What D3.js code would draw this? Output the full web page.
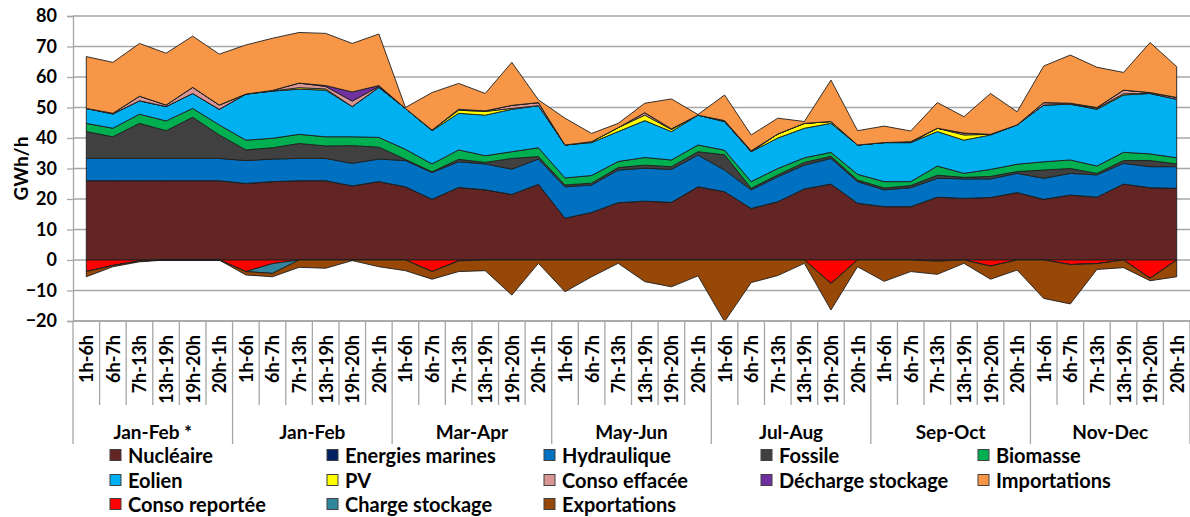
<!DOCTYPE html>
<html lang="fr">
<head>
    <meta charset="UTF-8">
    <title>Production par tranche horaire</title>
    <script src="https://d3js.org/d3.v7.min.js"></script>
    <style>
        body { margin: 0; background: #fff; }
        svg text { font-family: Lato, "Open Sans", sans-serif; font-weight: bold; fill: #000; }
    </style>
</head>
<body>
<svg id="chart" width="1190" height="517"></svg>
<script>
    // categories
    var periods = ["Jan-Feb *", "Jan-Feb", "Mar-Apr", "May-Jun", "Jul-Aug", "Sep-Oct", "Nov-Dec"];
    var slots = ["1h-6h", "6h-7h", "7h-13h", "13h-19h", "19h-20h", "20h-1h"];
    var yTicks = [-20, -10, 0, 10, 20, 30, 40, 50, 60, 70, 80];

    // GWh/h, one value per period x slot (42 points)
    var nucleaire = [26.0,26.0,26.0,26.0,26.0,26.0, 25.1,25.7,26.0,26.0,24.3,25.7, 24.0,19.9,23.8,23.0,21.5,24.8,
        13.7,15.6,18.8,19.3,18.9,24.0, 22.4,16.9,19.1,23.3,24.9,18.6, 17.5,17.5,20.6,20.2,20.5,22.1, 19.9,21.3,20.6,24.9,23.7,23.5];
    var energiesMarines = [0,0,0,0,0,0, 0,0,0,0,0,0, 0,0,0,0,0,0, 0,0,0,0,0,0, 0,0,0,0,0,0, 0,0,0,0,0,0, 0,0,0,0,0,0];
    var hydraulique = [7.3,7.3,7.3,7.3,7.3,7.3, 7.5,7.4,7.3,7.3,7.4,7.4, 8.6,8.8,8.4,8.5,8.3,8.3,
        10.3,9.0,10.7,10.8,10.8,10.4, 7.1,6.1,8.2,7.8,8.4,7.1, 5.5,6.2,6.2,6.4,6.1,6.3, 6.9,7.1,7.3,6.8,6.9,7.1];
    var fossile = [8.8,7.1,11.5,9.1,13.5,7.7, 3.5,3.7,4.9,4.1,5.8,3.9, 0.4,0.2,0.8,0.5,3.5,0.8,
        0.6,0.6,0.8,1.0,0.9,1.1, 5.0,0.5,0.6,0.9,0.7,0.5, 0.6,0.7,1.0,0.5,0.8,0.6, 2.7,1.6,0.5,0.9,2.0,0.9];
    var biomasse = [2.7,2.8,3.0,3.2,2.9,3.3, 3.2,3.1,3.0,3.0,2.9,3.2, 3.3,2.6,3.1,2.2,2.2,2.9,
        2.3,2.5,2.0,2.5,2.2,2.2, 1.5,2.2,2.1,1.5,1.3,1.9, 2.1,1.3,3.0,1.3,2.3,2.4, 2.7,2.8,2.4,2.7,2.2,2.0];
    var eolien = [4.9,4.7,4.4,4.7,4.9,5.1, 15.1,15.5,14.8,15.3,9.9,16.4, 13.4,10.9,12.0,13.3,13.9,13.8,
        10.8,10.8,9.8,12.1,9.3,9.8, 9.4,9.8,10.0,9.7,9.5,9.6, 12.8,12.8,11.3,10.9,11.3,12.9, 18.6,18.3,18.6,18.8,19.8,19.2];
    var pv = [0,0,0,0,0,0, 0,0,0.5,0.4,0,0, 0,0.2,1.0,1.2,0.3,0,
        0,0.3,1.3,1.8,0.7,0, 0,0,1.3,1.6,0.6,0, 0,0,1.1,1.7,0.2,0, 0,0,0.3,0.4,0,0];
    var consoEffacee = [0,0.2,1.5,0.5,2.0,1.4, 0,0.2,1.5,0.8,1.8,0.3, 0,0,0.3,0.2,1.0,1.0,
        0,0,0,0.8,0.2,0, 0.3,0.3,0,0,0,0, 0,0.3,0,0.6,0,0, 0.8,0.3,0.3,1.2,0.3,0.6];
    var dechargeStockage = [0,0,0,0,0,0, 0,0,0,0.3,3.0,0.3, 0,0,0,0,0,0,
        0,0,0,0,0,0, 0,0,0,0,0,0, 0,0,0,0,0,0, 0,0,0,0,0,0];
    var importations = [17.0,16.7,17.3,17.0,16.8,16.7, 16.1,17.1,16.6,17.1,15.9,16.9, 0.3,12.3,8.5,5.7,14.1,0.9,
        8.8,2.7,1.4,3.1,9.8,0.2, 8.4,5.2,5.2,0.6,13.6,4.7, 5.4,3.5,8.4,5.4,13.4,4.3, 12.0,15.8,13.2,5.8,16.4,10.1];
    var consoReportee = [-3.8,-1.8,-0.3,0,0,0, -3.8,-1.2,0,0,0,0, 0,-3.8,-0.3,0,0,0,
        0,0,0,0,0,0, 0,0,0,0,-7.7,0, 0,0,-0.4,0,-2.0,0, 0,-1.5,-1.2,0,-6.0,0];
    var chargeStockage = [0,0,0,0,0,0, 0,-3.2,0,0,0,0, 0,0,0,0,0,0,
        0,0,0,0,0,0, 0,0,0,0,0,0, 0,0,0,0,0,0, 0,0,0,0,0,0];
    var exportations = [-1.7,-0.4,-0.3,0,0,0, -1.1,-1.1,-2.4,-2.7,-0.2,-2.2, -3.5,-2.5,-3.5,-3.5,-11.5,-1.1,
        -10.4,-5.5,-1.1,-7.1,-8.8,-5.2, -20.2,-7.4,-5.1,-1.1,-8.7,-2.2, -7.0,-3.8,-4.3,-1.1,-4.3,-3.3, -12.6,-12.9,-1.9,-2.5,-0.8,-5.5];

    var positive = [
        { key: "Nucléaire", color: "#632523", values: nucleaire },
        { key: "Energies marines", color: "#002060", values: energiesMarines },
        { key: "Hydraulique", color: "#0070c0", values: hydraulique },
        { key: "Fossile", color: "#404040", values: fossile },
        { key: "Biomasse", color: "#00b050", values: biomasse },
        { key: "Eolien", color: "#00b0f0", values: eolien },
        { key: "PV", color: "#ffff00", values: pv },
        { key: "Conso effacée", color: "#da9694", values: consoEffacee },
        { key: "Décharge stockage", color: "#7030a0", values: dechargeStockage },
        { key: "Importations", color: "#f79646", values: importations }
    ];
    var negative = [
        { key: "Conso reportée", color: "#ff0000", values: consoReportee },
        { key: "Charge stockage", color: "#31859c", values: chargeStockage },
        { key: "Exportations", color: "#974706", values: exportations }
    ];
    var allSeries = positive.concat(negative);

    var n = periods.length * slots.length;
    var rows = d3.range(n).map(function(i) {
        var r = { i: i };
        allSeries.forEach(function(s) { r[s.key] = s.values[i]; });
        return r;
    });

    var plotLeft = 73, plotRight = 1190, plotTop = 16, plotBottom = 321;
    var svg = d3.select("#chart");

    var x = d3.scaleBand().domain(d3.range(n)).range([plotLeft, plotRight]).padding(0);
    var cx = function(i) { return x(i) + x.bandwidth() / 2; };
    var y = d3.scaleLinear().domain([-20, 80]).range([plotBottom, plotTop]);
    var color = d3.scaleOrdinal(allSeries.map(function(s) { return s.key; }), allSeries.map(function(s) { return s.color; }));

    // gridlines
    svg.append("g").selectAll("line")
        .data(yTicks)
        .enter().append("line")
        .attr("x1", plotLeft).attr("x2", plotRight)
        .attr("y1", function(d) { return y(d); }).attr("y2", function(d) { return y(d); })
        .attr("stroke", "#a6a6a6").attr("stroke-width", 1.3);

    // stacked areas (positive and negative stacked separately)
    var posStack = d3.stack().keys(positive.map(function(s) { return s.key; }))(rows);
    var negStack = d3.stack().keys(negative.map(function(s) { return s.key; }))(rows);

    var area = d3.area()
        .x(function(d, i) { return cx(i); })
        .y0(function(d) { return y(d[0]); })
        .y1(function(d) { return y(d[1]); });

    svg.append("g").selectAll("path")
        .data(posStack.concat(negStack))
        .enter().append("path")
        .attr("d", area)
        .attr("fill", function(d) { return color(d.key); })
        .attr("stroke", "#1e1e1e")
        .attr("stroke-width", 0.9)
        .attr("stroke-linejoin", "round");

    // y axis
    var yAxis = svg.append("g")
        .attr("transform", "translate(" + plotLeft + ",0)")
        .call(d3.axisLeft(y).tickValues(yTicks).tickSize(6).tickPadding(10));
    yAxis.selectAll("path, line").attr("stroke", "#a6a6a6").attr("stroke-width", 1.3);
    yAxis.selectAll("text").style("font-size", "18px").style("font-family", "Lato, sans-serif");

    svg.append("text")
        .attr("transform", "translate(20," + ((plotTop + plotBottom) / 2) + ") rotate(-90)")
        .attr("text-anchor", "middle")
        .attr("dominant-baseline", "central")
        .style("font-size", "19px")
        .text("GWh/h");

    // x axis: bottom line, slot separators and period separators
    svg.append("line")
        .attr("x1", plotLeft).attr("x2", plotRight).attr("y1", plotBottom).attr("y2", plotBottom)
        .attr("stroke", "#a6a6a6").attr("stroke-width", 1.3);

    svg.append("g").selectAll("line")
        .data(d3.range(n + 1))
        .enter().append("line")
        .attr("x1", function(i) { return i < n ? x(i) : plotRight; })
        .attr("x2", function(i) { return i < n ? x(i) : plotRight; })
        .attr("y1", plotBottom)
        .attr("y2", function(i) { return i % slots.length === 0 ? 444 : 405; })
        .attr("stroke", "#a6a6a6").attr("stroke-width", 1.3);

    svg.append("g").selectAll("text")
        .data(rows)
        .enter().append("text")
        .attr("transform", function(d) { return "translate(" + cx(d.i) + ",335) rotate(-90)"; })
        .attr("text-anchor", "end")
        .attr("dominant-baseline", "central")
        .style("font-size", "18px")
        .text(function(d) { return slots[d.i % slots.length]; });

    svg.append("g").selectAll("text")
        .data(periods)
        .enter().append("text")
        .attr("x", function(d, k) { return (x(k * slots.length) + x(k * slots.length + slots.length - 1) + x.bandwidth()) / 2; })
        .attr("y", 431)
        .attr("text-anchor", "middle")
        .attr("dominant-baseline", "central")
        .style("font-size", "19px")
        .text(function(d) { return d; });

    // legend, 5 columns
    var legend = svg.append("g").selectAll("g")
        .data(allSeries)
        .enter().append("g")
        .attr("transform", function(d, k) {
            return "translate(" + (110 + (k % 5) * 217) + "," + [455, 480, 504][Math.floor(k / 5)] + ")";
        });
    legend.append("rect")
        .attr("x", 0).attr("y", -5.5).attr("width", 11).attr("height", 11)
        .attr("fill", function(d) { return d.color; })
        .attr("stroke", "#404040").attr("stroke-width", 1);
    legend.append("text")
        .attr("x", 18)
        .attr("dominant-baseline", "central")
        .style("font-size", "20px")
        .text(function(d) { return d.key; });
</script>
</body>
</html>
